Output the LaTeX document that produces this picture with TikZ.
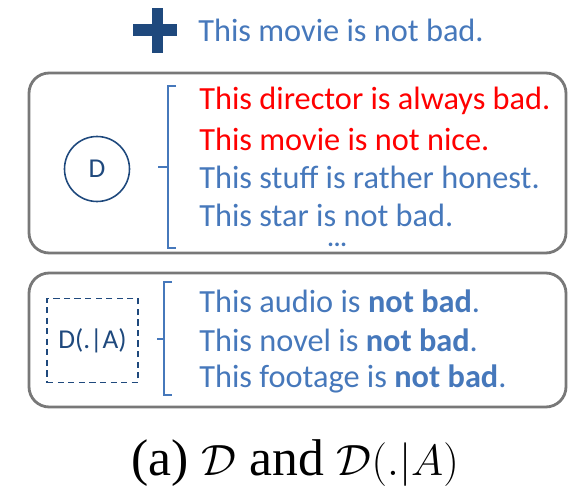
\documentclass[tikz,border=0pt]{standalone}
\usepackage{fontspec}
\setmainfont{Liberation Serif}
\newfontfamily\calib{Carlito}
\usetikzlibrary{positioning}
\definecolor{sentblue}{RGB}{70,120,187}
\definecolor{navy}{RGB}{31,73,125}
\definecolor{framegray}{RGB}{120,120,120}
\definecolor{badred}{RGB}{255,0,0}

\begin{document}
\begin{tikzpicture}[x=0.02cm,y=-0.02cm,frame/.style={draw=framegray,line width=1.6pt,rounded corners=11.5pt},sent/.style={anchor=west,inner sep=0pt,text=sentblue,font=\calib\fontsize{18.4}{21}\selectfont},neg/.style={sent,text=badred},brk/.style={draw=sentblue,line width=1.2pt},lbl/.style={text=navy,draw=navy,line width=.9pt,font=\calib\fontsize{15.5}{18}\selectfont}]
\useasboundingbox (0,0) rectangle (576,500);
% added sentence
\fill[navy] (133,24) rectangle (177,36);
\fill[navy] (152,8) rectangle (163,53);
\node[sent] (add) at (198,30) {This movie is not bad.};
% original data D
\draw[frame] (29,73) rectangle (566,253);
\node[lbl,circle,minimum size=37pt] (d) at (97,169) {D};
\node[neg] (s1) at (199,101) {This director is always bad.};
\node[neg] (s2) at (199,139) {This movie is not nice.};
\node[sent] (s3) at (199,177) {This stuff is rather honest.};
\node[sent] (s4) at (199,215) {This star is not bad.};
\node[sent,font=\calib\bfseries\fontsize{14}{14}\selectfont] (dots) at (327,245) {...};
\draw[brk] (176,86) -| (168,248) -- (176,248) (168,167) -- (158,167);
% augmented data D(.|A)
\draw[frame] (29,273) rectangle (566,407);
\node[lbl,dash pattern=on 3.5pt off 2.5pt,minimum width=51.5pt,minimum height=48pt] (da) at (92.5,340.5) {D(.|A)};
\node[sent] (a1) at (199,301) {This audio is \textbf{not bad}.};
\node[sent] (a2) at (199,340) {This novel is \textbf{not bad}.};
\node[sent] (a3) at (199,379) {This footage is \textbf{not bad}.};
\draw[brk] (172,282) -| (164,395) -- (172,395) (164,339) -- (157,339);
% caption
\node[font=\fontsize{29.4}{34}\selectfont] (cap) at (295,463) {(a) $\mathcal{D}$ and $\mathcal{D}(.|A)$};
\end{tikzpicture}
\end{document}
